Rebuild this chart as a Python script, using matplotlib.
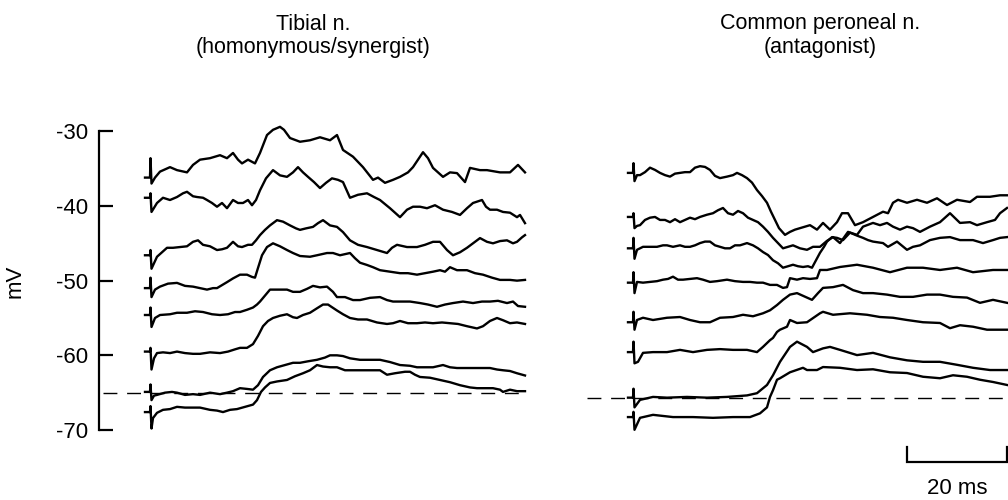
import matplotlib.pyplot as plt

plt.rcParams['font.family'] = ['Liberation Sans', 'DejaVu Sans']
plt.rcParams['axes.unicode_minus'] = False

# ---- data: time (ms from trace start) and membrane potential (mV) ----
# Tibial n. (homonymous/synergist), traces top to bottom
tib1_ms = [0, 1.0, 1.1, 1.3, 2.0, 3.0, 5.0, 6.4, 8.4, 9.6, 11.0, 13.0, 15.0, 16.4, 17.6, 18.6, 19.4, 20.6, 22.0, 23.0,
           24.4, 25.6, 27.0, 27.8, 29.0, 31.0, 33.0, 35.0, 37.0, 38.4, 39.6, 41.6, 43.6, 45.6, 46.6, 48.0, 49.6, 51.0,
           52.6, 53.6, 55.6, 56.6, 57.6, 59.6, 61.0, 62.4, 64.0, 65.0, 67.0, 68.4, 71.0, 73.0, 74.6, 76.0]
tib1_mv = [-36.2, -36.2, -33.6, -37.0, -36.2, -35.4, -34.8, -35.2, -35.5, -34.5, -33.8, -33.6, -33.2, -33.6, -32.9,
           -33.8, -34.3, -33.8, -34.3, -32.9, -30.5, -29.8, -29.4, -29.8, -30.9, -31.4, -31.2, -30.8, -31.2, -30.5,
           -32.5, -33.4, -34.8, -36.5, -36.2, -36.9, -36.5, -36.1, -35.5, -34.8, -32.8, -33.6, -34.9, -36.1, -35.5,
           -35.6, -36.8, -34.9, -35.2, -35.2, -35.5, -35.5, -34.5, -35.5]

tib2_ms = [0, 1.0, 1.1, 1.3, 2.4, 3.6, 5.0, 6.4, 7.6, 8.4, 9.6, 10.4, 11.6, 12.4, 13.4, 14.4, 15.4, 16.4, 17.6, 18.6,
           19.6, 20.6, 21.4, 22.2, 23.0, 24.2, 25.6, 27.0, 28.4, 29.6, 30.6, 31.6, 32.6, 33.8, 35.0, 36.2, 37.4, 38.6,
           39.6, 41.0, 42.6, 44.4, 45.8, 47.0, 49.0, 51.0, 52.4, 53.6, 55.0, 56.4, 58.0, 59.6, 61.4, 63.0, 64.4, 65.6,
           67.4, 68.2, 69.0, 70.4, 71.6, 73.0, 74.4, 75.0, 76.0]
tib2_mv = [-38.9, -38.9, -38.3, -40.8, -39.6, -38.9, -39.2, -38.8, -38.3, -38.1, -38.7, -38.8, -38.9, -39.2, -39.6,
           -40.1, -39.6, -40.3, -39.2, -39.6, -39.6, -39.2, -39.9, -39.2, -37.9, -36.3, -35.2, -35.9, -36.1, -35.5,
           -34.8, -35.5, -36.1, -36.8, -37.6, -36.9, -36.3, -36.5, -36.8, -38.9, -38.5, -38.3, -38.8, -39.2, -40.3,
           -41.5, -40.5, -40.1, -40.1, -40.3, -39.9, -40.5, -40.8, -41.2, -40.3, -39.6, -39.2, -40.1, -40.5, -40.5,
           -40.8, -40.9, -41.5, -41.2, -42.3]

tib3_ms = [0, 1.0, 1.1, 1.3, 2.4, 3.4, 4.4, 5.6, 7.0, 8.4, 9.6, 10.6, 11.6, 13.0, 14.4, 15.4, 16.4, 17.6, 18.6, 19.4,
           20.6, 21.4, 22.2, 23.0, 24.0, 25.0, 26.4, 27.6, 29.0, 30.2, 31.0, 32.2, 33.6, 34.6, 35.6, 37.0, 38.4, 39.6,
           41.0, 42.6, 44.4, 46.4, 48.4, 49.4, 50.4, 52.4, 54.4, 56.0, 57.6, 59.0, 60.4, 61.6, 63.0, 64.4, 65.6, 67.0,
           68.4, 69.6, 71.0, 72.4, 73.6, 74.4, 75.4, 76.0]
tib3_mv = [-46.6, -46.6, -45.9, -48.4, -46.8, -46.2, -45.6, -45.6, -45.5, -45.4, -44.8, -44.6, -45.2, -45.4, -45.9,
           -45.8, -45.6, -44.8, -45.4, -45.5, -45.2, -45.2, -44.6, -43.9, -43.2, -42.6, -41.9, -42.1, -42.6, -43.0,
           -43.2, -43.0, -42.8, -42.3, -41.9, -42.6, -42.8, -43.5, -44.6, -45.2, -45.5, -45.9, -46.3, -45.6, -45.2,
           -45.5, -45.5, -45.2, -44.8, -44.8, -45.9, -46.6, -46.2, -45.6, -45.0, -44.3, -44.8, -45.0, -44.7, -44.6,
           -45.0, -44.8, -44.2, -43.9]

tib4_ms = [0, 1.0, 1.1, 1.3, 2.0, 3.0, 4.6, 6.4, 8.0, 9.6, 11.0, 12.4, 13.6, 14.4, 15.4, 16.4, 17.6, 19.0, 20.4, 21.4,
           22.0, 22.6, 23.4, 24.4, 25.6, 27.0, 28.4, 29.6, 31.0, 33.0, 34.4, 36.4, 37.6, 39.0, 41.0, 42.0, 43.0, 44.4,
           45.6, 47.0, 49.0, 51.0, 52.6, 54.4, 56.0, 57.6, 59.0, 60.0, 61.0, 62.4, 64.4, 66.0, 67.6, 69.4, 71.0, 73.0,
           74.4, 76.0]
tib4_mv = [-51.0, -51.0, -49.6, -52.2, -51.2, -50.8, -50.4, -50.3, -50.7, -50.8, -51.0, -51.2, -51.0, -51.0, -50.6,
           -50.2, -49.7, -49.2, -49.2, -49.5, -49.6, -48.3, -46.6, -45.5, -45.0, -45.4, -45.9, -46.3, -46.7, -46.8,
           -46.6, -46.3, -46.3, -46.6, -46.3, -47.0, -47.6, -47.9, -48.2, -48.6, -48.8, -49.0, -49.0, -49.2, -49.0,
           -48.8, -48.6, -48.8, -48.2, -48.6, -48.6, -49.0, -49.2, -49.6, -49.9, -49.9, -50.0, -49.9]

tib5_ms = [0, 1.0, 1.1, 1.3, 2.0, 3.0, 5.0, 6.4, 8.4, 10.0, 11.6, 13.4, 15.0, 16.6, 18.0, 19.0, 20.4, 21.6, 22.4, 23.0,
           24.0, 25.0, 26.4, 28.4, 29.6, 31.0, 32.4, 33.6, 35.0, 36.4, 37.6, 38.4, 40.0, 41.6, 43.0, 45.0, 47.0, 48.4,
           49.6, 51.0, 53.0, 55.0, 56.6, 58.4, 60.0, 61.6, 63.6, 65.6, 67.4, 69.0, 70.6, 72.4, 73.6, 74.6, 76.0]
tib5_mv = [-54.6, -54.6, -53.6, -56.2, -55.0, -54.6, -54.5, -54.3, -54.3, -54.1, -54.2, -54.5, -54.6, -54.5, -54.2,
           -54.2, -53.9, -53.6, -53.2, -52.8, -52.0, -51.2, -51.2, -51.2, -51.5, -51.5, -51.1, -50.7, -50.9, -50.8,
           -51.5, -52.2, -52.2, -52.6, -52.6, -52.3, -52.2, -52.6, -52.8, -52.8, -52.8, -53.0, -53.2, -53.5, -53.2,
           -53.0, -52.8, -53.0, -52.8, -52.8, -52.7, -53.0, -52.8, -53.4, -53.5]

tib6_ms = [0, 1.0, 1.1, 1.3, 1.8, 2.4, 3.6, 5.0, 6.4, 8.0, 9.6, 11.0, 13.0, 15.0, 16.6, 18.0, 19.0, 20.4, 21.6, 22.6,
           23.6, 24.6, 25.6, 27.0, 28.4, 29.6, 30.4, 31.6, 33.0, 34.4, 35.6, 36.6, 38.4, 39.6, 41.0, 42.6, 44.4, 46.4,
           48.4, 49.6, 51.0, 52.6, 54.4, 56.0, 57.6, 59.4, 61.0, 62.6, 64.4, 66.4, 67.6, 69.0, 70.4, 71.6, 73.0, 74.4,
           76.0]
tib6_mv = [-59.5, -59.5, -59.0, -61.9, -60.4, -59.7, -59.6, -59.7, -59.5, -59.7, -59.8, -59.8, -59.6, -59.7, -59.5,
           -59.2, -59.0, -59.0, -58.5, -57.4, -56.1, -55.4, -55.0, -54.7, -54.5, -54.9, -55.0, -54.6, -54.3, -53.7,
           -53.2, -53.2, -54.0, -54.5, -55.0, -55.2, -55.2, -55.6, -55.8, -55.7, -55.4, -55.7, -55.7, -55.6, -55.7,
           -55.6, -55.7, -55.8, -56.1, -56.4, -56.1, -55.4, -55.0, -55.3, -55.7, -55.6, -55.8]

tib7_ms = [0, 1.0, 1.1, 1.3, 1.8, 2.4, 4.0, 5.4, 6.4, 8.0, 9.6, 11.0, 13.0, 15.0, 16.4, 17.6, 19.0, 20.4, 21.6, 22.6,
           23.6, 25.0, 26.4, 28.0, 29.6, 31.0, 32.6, 34.4, 36.0, 37.0, 38.4, 39.6, 41.0, 43.0, 45.0, 47.0, 49.0, 51.0,
           53.0, 54.4, 56.0, 57.6, 59.6, 61.0, 62.4, 64.0, 65.6, 67.4, 69.0, 70.4, 71.6, 73.0, 74.4, 76.0]
tib7_mv = [-64.9, -64.9, -63.9, -66.0, -65.4, -65.3, -65.0, -64.9, -65.0, -65.3, -65.2, -65.3, -65.0, -65.2, -65.0,
           -64.8, -64.4, -64.5, -64.6, -64.0, -62.9, -62.0, -61.6, -61.3, -61.0, -61.0, -60.8, -60.6, -60.3, -60.0,
           -60.0, -60.1, -60.4, -60.6, -60.6, -60.6, -60.9, -61.3, -61.4, -61.6, -61.6, -61.6, -61.3, -61.6, -61.7,
           -61.7, -61.7, -61.7, -61.7, -61.9, -62.0, -62.1, -62.4, -62.7]

tib8_ms = [0, 1.0, 1.1, 1.3, 1.6, 2.4, 3.6, 5.0, 6.4, 8.0, 9.6, 11.0, 13.0, 14.4, 15.6, 17.0, 18.4, 20.0, 21.6, 22.4,
           23.2, 24.0, 25.0, 26.4, 28.4, 30.0, 31.6, 33.0, 34.4, 35.6, 37.0, 38.4, 40.0, 41.6, 43.6, 45.6, 47.0, 48.4,
           50.0, 52.0, 53.0, 54.0, 55.0, 57.0, 59.0, 61.0, 63.0, 65.0, 66.4, 68.0, 69.6, 71.0, 71.6, 73.0, 74.4, 76.0]
tib8_mv = [-67.6, -67.6, -66.8, -69.8, -68.4, -67.7, -67.3, -67.2, -66.9, -67.0, -67.0, -67.0, -67.3, -67.4, -67.6,
           -67.3, -67.2, -66.9, -66.6, -66.0, -64.9, -64.3, -63.7, -63.5, -63.3, -62.8, -62.4, -62.0, -61.3, -61.5,
           -61.6, -61.6, -62.0, -62.0, -62.0, -62.0, -62.0, -62.6, -62.4, -62.2, -62.2, -62.6, -62.9, -63.0, -63.3,
           -63.6, -64.0, -64.3, -64.4, -64.4, -64.4, -64.6, -64.9, -64.6, -64.8, -64.8]

# Common peroneal n. (antagonist), traces top to bottom
per1_ms = [0, 1.0, 1.1, 1.3, 1.8, 2.4, 3.4, 4.4, 5.4, 6.4, 7.4, 8.4, 9.4, 10.4, 11.4, 12.4, 13.4, 14.4, 15.4, 16.4,
           17.4, 18.4, 19.8, 21.0, 21.8, 22.8, 23.8, 24.8, 25.8, 26.8, 27.8, 28.6, 29.4, 30.2, 31.4, 32.4, 33.4, 34.4,
           35.4, 36.4, 37.8, 39.0, 40.4, 41.8, 42.8, 44.0, 45.4, 47.0, 49.0, 51.0, 52.0, 53.0, 54.0, 55.8, 57.8, 59.8,
           61.8, 63.8, 65.8, 68.4, 69.8, 72.4, 74.4, 75.8]
per1_mv = [-34.9, -34.9, -33.6, -36.0, -35.2, -35.2, -34.8, -34.2, -34.5, -34.9, -35.2, -35.4, -35.0, -34.9, -34.8,
           -34.8, -34.2, -34.0, -34.1, -34.5, -35.3, -35.6, -35.4, -35.2, -34.9, -35.2, -35.6, -36.2, -37.2, -38.0,
           -38.9, -40.1, -41.2, -42.3, -43.2, -42.8, -42.5, -42.3, -42.1, -41.9, -42.5, -41.6, -42.5, -41.5, -40.3,
           -40.3, -41.9, -41.5, -40.8, -40.1, -40.3, -38.9, -38.5, -38.9, -38.5, -38.9, -38.3, -39.2, -38.5, -38.8,
           -38.1, -38.1, -37.9, -37.9]

per2_ms = [0, 1.0, 1.1, 1.3, 1.8, 2.4, 3.4, 4.4, 5.4, 6.4, 7.4, 8.4, 9.4, 10.4, 11.4, 12.4, 13.4, 14.4, 15.8, 17.0,
           18.0, 19.0, 20.0, 21.0, 22.0, 23.0, 24.0, 25.0, 26.0, 27.0, 28.0, 29.0, 30.0, 31.0, 32.0, 33.0, 34.4, 35.8,
           37.0, 38.4, 39.8, 41.0, 42.4, 44.0, 45.8, 47.0, 49.0, 50.4, 51.8, 53.0, 54.4, 55.8, 57.0, 58.4, 60.4, 62.4,
           64.4, 66.4, 68.4, 69.8, 71.8, 73.4, 74.4, 75.8]
per2_mv = [-40.8, -40.8, -40.3, -42.3, -42.0, -41.9, -41.2, -40.9, -40.8, -41.2, -41.2, -41.5, -41.1, -41.5, -41.2,
           -40.9, -41.1, -40.8, -40.5, -40.3, -39.9, -39.6, -40.3, -40.5, -40.0, -40.3, -40.9, -41.2, -41.5, -42.1,
           -42.8, -43.6, -44.3, -45.0, -44.8, -44.6, -45.0, -45.2, -44.8, -44.8, -44.0, -43.5, -44.3, -42.8, -43.2,
           -42.1, -41.6, -41.9, -41.6, -42.1, -42.5, -42.1, -42.3, -42.8, -42.1, -41.5, -40.3, -41.6, -41.5, -41.9,
           -41.5, -41.2, -40.3, -39.6]

per3_ms = [0, 1.0, 1.1, 1.3, 1.8, 3.0, 4.4, 5.8, 7.0, 7.8, 9.0, 10.4, 11.4, 12.4, 13.4, 14.4, 15.4, 16.4, 17.4, 18.4,
           19.4, 20.4, 21.4, 22.4, 23.8, 25.0, 26.0, 27.0, 28.0, 29.0, 30.0, 31.0, 32.0, 33.0, 34.0, 35.0, 36.0, 36.8,
           37.6, 38.4, 39.2, 39.8, 40.8, 41.8, 43.0, 44.4, 45.8, 47.0, 48.0, 49.0, 51.0, 52.0, 53.8, 55.8, 57.0, 58.4,
           60.4, 62.4, 64.4, 66.4, 69.0, 71.0, 73.0, 74.4, 75.8]
per3_mv = [-45.0, -45.0, -43.6, -46.4, -45.2, -44.8, -44.8, -44.8, -44.6, -44.6, -44.8, -44.6, -44.8, -44.8, -44.6,
           -44.3, -44.1, -44.1, -44.6, -44.8, -45.0, -45.0, -44.6, -44.6, -44.3, -44.6, -45.0, -45.5, -45.9, -46.6,
           -47.0, -47.6, -47.4, -47.2, -47.4, -47.5, -47.4, -47.6, -46.6, -45.6, -44.8, -44.1, -43.5, -43.6, -43.9,
           -42.9, -43.3, -43.6, -43.9, -44.1, -44.3, -44.8, -44.1, -45.2, -44.8, -44.6, -43.9, -43.6, -43.5, -43.9,
           -43.9, -44.3, -43.9, -43.6, -43.5]

per4_ms = [0, 1.0, 1.1, 1.3, 1.8, 3.0, 4.4, 5.8, 7.0, 8.0, 9.0, 10.0, 11.0, 12.4, 13.8, 15.0, 16.4, 17.8, 19.8, 21.4,
           23.0, 24.4, 25.8, 27.0, 28.4, 29.8, 31.0, 31.8, 32.4, 33.8, 35.0, 36.4, 37.8, 38.4, 39.8, 42.4, 45.8, 49.0,
           52.4, 55.8, 59.0, 62.4, 65.8, 69.0, 73.0, 75.8]
per4_mv = [-49.6, -49.6, -48.2, -51.0, -49.5, -49.6, -49.5, -49.4, -49.2, -49.1, -48.8, -49.2, -49.2, -49.1, -49.0,
           -49.2, -49.5, -49.4, -49.2, -49.4, -49.5, -49.5, -49.6, -49.6, -49.9, -49.9, -50.3, -50.2, -49.0, -49.2,
           -49.0, -49.1, -49.0, -47.9, -47.9, -47.5, -47.2, -47.6, -48.2, -47.6, -47.6, -47.9, -47.6, -48.2, -47.9,
           -47.9]

per5_ms = [0, 1.0, 1.1, 1.3, 1.8, 3.0, 5.0, 7.8, 10.4, 12.4, 14.4, 16.4, 18.4, 21.0, 23.0, 25.0, 27.0, 28.4, 29.8,
           31.0, 32.4, 33.8, 35.8, 36.8, 38.0, 39.0, 41.0, 43.0, 45.0, 47.0, 49.0, 51.8, 54.4, 57.0, 59.8, 62.4, 65.0,
           67.8, 70.4, 73.0, 75.8]
per5_mv = [-54.9, -54.9, -53.5, -55.9, -54.6, -54.3, -54.6, -54.3, -54.2, -54.6, -54.9, -54.9, -54.3, -54.2, -53.9,
           -54.1, -53.7, -53.3, -52.6, -51.9, -51.2, -51.0, -51.6, -51.9, -51.0, -50.3, -50.2, -49.9, -50.6, -51.0,
           -51.0, -51.2, -51.5, -51.5, -51.2, -51.2, -51.5, -51.6, -52.3, -51.9, -52.3]

per6_ms = [0, 1.0, 1.1, 1.3, 2.0, 3.0, 5.0, 7.8, 10.4, 13.0, 15.8, 18.4, 21.0, 23.8, 25.8, 27.0, 28.4, 29.0, 29.8,
           30.4, 31.8, 32.4, 33.8, 35.8, 38.4, 39.0, 41.0, 44.4, 47.8, 50.4, 53.0, 55.8, 59.0, 62.4, 64.4, 66.4, 69.0,
           71.8, 75.8]
per6_mv = [-58.9, -58.9, -57.5, -60.4, -60.2, -59.0, -58.9, -58.9, -58.6, -58.9, -58.6, -58.5, -58.6, -58.6, -58.9,
           -58.2, -57.3, -57.0, -56.2, -55.9, -55.5, -54.6, -55.0, -54.9, -53.7, -53.5, -53.9, -53.7, -53.9, -54.2,
           -54.3, -54.6, -54.9, -55.0, -55.7, -55.3, -55.5, -55.9, -55.9]

per7_ms = [0, 1.0, 1.1, 1.3, 2.4, 5.0, 7.8, 11.8, 15.8, 19.8, 23.8, 25.8, 27.8, 29.0, 30.4, 31.0, 32.4, 33.8, 35.8,
           37.0, 39.0, 40.4, 42.4, 45.8, 49.0, 52.4, 55.8, 59.0, 62.4, 65.8, 69.0, 72.4, 75.8]
per7_mv = [-65.0, -65.0, -63.8, -66.3, -65.3, -64.9, -65.0, -64.9, -65.0, -64.9, -64.7, -64.4, -63.3, -62.0, -60.2,
           -59.6, -58.2, -57.5, -58.2, -58.9, -58.4, -58.2, -58.6, -59.3, -59.0, -59.6, -60.0, -60.2, -60.2, -60.6,
           -61.0, -61.3, -61.3]

per8_ms = [0, 1.0, 1.1, 1.3, 2.4, 5.0, 9.0, 13.0, 17.0, 21.0, 24.4, 26.4, 27.8, 28.4, 29.0, 29.8, 30.4, 32.4, 35.0,
           35.8, 37.8, 39.0, 42.4, 45.8, 49.0, 52.4, 55.8, 59.0, 62.4, 65.0, 67.8, 70.4, 73.0, 75.8]
per8_mv = [-67.6, -67.6, -66.9, -69.3, -67.7, -67.3, -67.6, -67.6, -67.7, -67.6, -67.6, -67.1, -66.3, -64.9, -64.0,
           -62.6, -62.4, -61.6, -61.0, -61.3, -61.3, -60.9, -61.0, -61.3, -61.2, -61.6, -61.7, -62.2, -62.4, -62.0,
           -62.2, -62.6, -62.9, -63.3]

resting_mv = -65
y_ticks = [-30, -40, -50, -60, -70]
scale_ms = 20

tibial = [(tib1_ms, tib1_mv), (tib2_ms, tib2_mv), (tib3_ms, tib3_mv), (tib4_ms, tib4_mv),
          (tib5_ms, tib5_mv), (tib6_ms, tib6_mv), (tib7_ms, tib7_mv), (tib8_ms, tib8_mv)]
peroneal = [(per1_ms, per1_mv), (per2_ms, per2_mv), (per3_ms, per3_mv), (per4_ms, per4_mv),
            (per5_ms, per5_mv), (per6_ms, per6_mv), (per7_ms, per7_mv), (per8_ms, per8_mv)]

# ---- layout (pixel based) ----
W, H = 1008, 500
fig = plt.figure(figsize=(W / 100, H / 100), dpi=100)


def px_rect(x0, x1, y_top, y_bot):
    return [x0 / W, 1 - y_bot / H, (x1 - x0) / W, (y_bot - y_top) / H]


ax_l = fig.add_axes(px_rect(99, 525, 131.3, 430))
ax_r = fig.add_axes(px_rect(583, 1008, 136.3, 435))
ax_l.set_xlim(-9.2, 76)
ax_r.set_xlim(-9, 76)
for ax in (ax_l, ax_r):
    ax.set_ylim(-70, -30)
    ax.patch.set_visible(False)
    for s in ("top", "right", "bottom"):
        ax.spines[s].set_visible(False)
    ax.set_xticks([])

ax_r.spines["left"].set_visible(False)
ax_r.set_yticks([])

ax_l.spines["left"].set_linewidth(1.6)
ax_l.set_yticks(y_ticks)
ax_l.set_yticklabels([str(v) for v in y_ticks])
ax_l.tick_params(axis="y", direction="in", length=10, width=1.6, labelsize=16, pad=8)

for t, v in tibial:
    ax_l.plot(t, v, color="black", lw=1.7, clip_on=False, solid_joinstyle="round")
for t, v in peroneal:
    ax_r.plot(t, v, color="black", lw=1.7, clip_on=False, solid_joinstyle="round")

# resting potential dashed lines
ax_l.plot([-8.4, 76], [resting_mv, resting_mv], color="black", lw=1.0, dashes=(10, 7), clip_on=False)
ax_r.plot([-8.2, 76], [resting_mv, resting_mv], color="black", lw=1.0, dashes=(10, 7), clip_on=False)

# time scale bar
x_end = 75.8
ax_r.plot([x_end - scale_ms, x_end - scale_ms, x_end, x_end], [-71.6, -73.6, -73.6, -71.6],
          color="black", lw=1.6, clip_on=False, solid_joinstyle="miter")
ax_r.text(x_end - scale_ms / 2, -77.2, "%d ms" % scale_ms, ha="center", va="center", fontsize=16)

# titles and y label
fig.text(313 / W, 1 - 24 / H, "Tibial n.", ha="center", va="center", fontsize=15.5)
fig.text(313 / W, 1 - 47 / H, "(homonymous/synergist)", ha="center", va="center", fontsize=15.5)
fig.text(820 / W, 1 - 24 / H, "Common peroneal n.", ha="center", va="center", fontsize=15.5)
fig.text(820 / W, 1 - 47 / H, "(antagonist)", ha="center", va="center", fontsize=15.5)
fig.text(15 / W, 1 - 281 / H, "mV", rotation=90, ha="center", va="center", fontsize=16)

fig.savefig("out.png", dpi=100)
